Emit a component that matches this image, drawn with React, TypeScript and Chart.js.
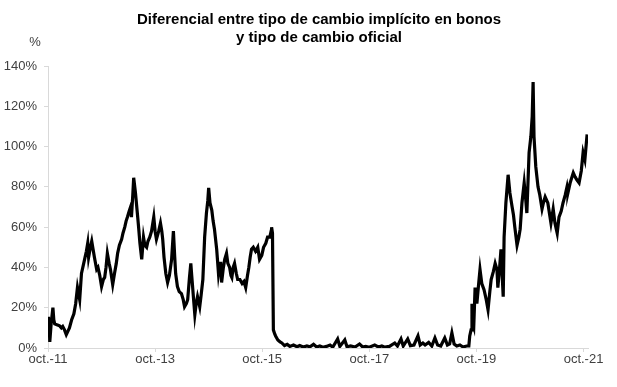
import React, { useEffect, useRef } from "react";
import { Chart, registerables } from "chart.js";

Chart.register(...registerables);

// Months elapsed since October 2011
const months = [
  0.1, 0.3, 0.4, 0.7, 1.1, 1.3, 1.5, 2.0, 2.6, 3.0, 3.3, 3.7, 4.1, 4.5, 4.8, 5.3, 5.8, 6.2, 6.6, 7.1,
  7.5, 8.2, 8.6, 8.9, 9.1, 9.5, 9.8, 10.1, 10.4, 10.9, 11.2, 11.6, 12.0, 12.4, 12.7, 13.0, 13.3, 13.7, 14.0, 14.5,
  14.9, 15.3, 15.6, 16.0, 16.5, 16.8, 17.2, 17.5, 17.8, 18.2, 18.5, 18.7, 19.0, 19.2, 19.6, 20.1, 20.3, 20.6, 21.0, 21.4,
  21.7, 22.1, 22.4, 22.8, 23.2, 23.7, 24.0, 24.3, 24.8, 25.2, 25.5, 25.7, 26.0, 26.4, 26.8, 27.2, 27.7, 28.1, 28.4, 28.6,
  29.0, 29.4, 29.9, 30.3, 30.6, 31.0, 31.3, 31.7, 32.0, 32.2, 32.4, 32.7, 32.9, 33.2, 33.5, 34.0, 34.3, 34.7, 35.1, 35.5,
  35.8, 36.0, 36.3, 36.7, 37.0, 37.3, 37.8, 38.0, 38.2, 38.5, 38.7, 38.9, 39.3, 39.6, 40.0, 40.3, 40.7, 41.0, 41.2, 41.5,
  41.8, 42.2, 42.5, 43.0, 43.5, 43.9, 44.3, 44.7, 45.0, 45.3, 45.6, 46.0, 46.5, 47.0, 47.4, 47.9, 48.3, 48.8, 49.2, 49.7,
  50.0, 50.1, 50.3, 50.5, 50.8, 51.0, 51.5, 52.0, 52.4, 53.0, 53.6, 54.2, 55.0, 55.8, 56.4, 57.2, 58.0, 58.7, 59.5, 60.2,
  60.9, 61.6, 62.4, 63.2, 63.8, 64.9, 65.4, 66.5, 67.0, 67.8, 68.8, 69.8, 70.5, 71.2, 72.0, 73.2, 74.0, 74.8, 75.5, 76.5,
  77.7, 78.3, 79.1, 79.6, 80.6, 81.2, 82.0, 82.9, 83.4, 84.0, 84.5, 85.3, 86.0, 86.7, 87.3, 88.0, 88.9, 89.5, 90.0, 90.5,
  91.0, 91.6, 92.3, 93.0, 93.8, 94.3, 94.5, 94.8, 95.0, 95.2, 95.4, 95.7, 96.1, 96.5, 96.8, 97.2, 97.7, 98.2, 98.6, 99.0,
  99.3, 99.8, 100.2, 100.6, 100.8, 101.2, 101.5, 102.0, 102.2, 102.6, 103.1, 103.5, 104.0, 104.3, 104.6, 105.1, 105.5, 105.8, 106.2, 106.7,
  107.0, 107.3, 107.6, 107.8, 108.2, 108.5, 108.7, 108.9, 109.3, 109.8, 110.2, 110.7, 111.0, 111.4, 112.0, 112.7, 113.2, 113.6, 114.1, 114.5,
  115.0, 115.4, 115.9, 116.3, 116.5, 117.0, 117.7, 118.1, 118.5, 119.0, 119.5, 119.9, 120.3, 120.8,
];

// Differential, %
const values = [
  15.5, 10, 3, 12, 20, 14, 12, 11.5, 11, 10, 10.7, 9, 6.6, 8.5, 10, 14, 17, 22, 30, 24,
  37, 44, 48, 52, 45, 50, 53, 49, 45, 39, 40, 36, 30.5, 34, 35, 40, 47, 42, 39, 31.5,
  37, 42, 47, 51, 54, 57, 60, 63, 65, 68, 70, 65, 76, 84.5, 77, 65, 60, 52, 44, 55,
  51, 50, 53, 55, 58, 65, 58, 54, 58, 62, 58, 54, 45, 37, 32.5, 36, 44, 58, 45, 37,
  30.5, 28, 27, 24, 20.5, 22, 24, 35, 42, 36, 30.5, 22, 16.5, 22, 25.5, 20.5, 26, 34, 55, 67,
  73, 79.5, 72, 68.5, 63, 59, 49, 43, 37, 42, 42, 32.5, 40, 44, 47, 42, 40, 36, 35, 40,
  42, 37, 34, 34, 32, 33, 30, 36, 40, 45, 49, 50, 48, 50, 44, 46, 50, 52, 55, 55,
  58, 60, 57, 9, 7, 6, 4, 3, 2.5, 1.2, 1.8, 0.8, 1.5, 0.6, 1.2, 0.5, 1.0, 0.6, 1.8, 0.5,
  1.0, 0.4, 0.8, 1.5, 0.4, 4.5, 0.8, 4.0, 0.6, 1.0, 0.5, 2.0, 0.5, 0.8, 0.4, 1.5, 0.5, 1.0, 0.4, 0.8,
  2.5, 1.0, 4.5, 1.0, 4.5, 1.2, 1.5, 6.0, 1.5, 2.5, 1.5, 2.8, 1.0, 5.0, 1.5, 1.0, 5.0, 1.5, 2.0, 7.5,
  2.0, 1.0, 1.5, 0.5, 1.0, 1.0, 6, 9, 22, 12, 10.5, 30, 22, 32, 39, 32, 29, 24, 19, 28,
  34, 38, 42, 39, 30, 40, 49, 25.5, 55, 72, 86, 77, 70, 66, 60, 51, 55, 59, 72, 82,
  75, 67, 85, 97, 105, 115, 132, 105, 90, 80, 76, 69, 72, 75, 72, 62, 69, 62, 57, 65,
  68, 72, 76, 80, 77, 82, 87, 85, 83.5, 82, 88, 97, 93.5, 106,
];

const xTickMonths = [0, 24, 48, 72, 96, 120];
const xTickLabels = ["oct.-11", "oct.-13", "oct.-15", "oct.-17", "oct.-19", "oct.-21"];
const yTickValues = [0, 20, 40, 60, 80, 100, 120, 140];
const titleLines = ["Diferencial entre tipo de cambio implícito en bonos", "y tipo de cambio oficial"];
const unitLabel = "%";

const FONT = '"Liberation Sans", Arial, sans-serif';

const textPlugin = {
  id: "textPlugin",
  afterDraw(chart: any) {
    const ctx = chart.ctx;
    ctx.save();
    ctx.fillStyle = "#000";
    ctx.font = `bold 15px ${FONT}`;
    ctx.textAlign = "center";
    ctx.textBaseline = "middle";
    ctx.fillText(titleLines[0], 319, 20);
    ctx.fillText(titleLines[1], 319, 38);
    ctx.font = `13px ${FONT}`;
    ctx.fillStyle = "#404040";
    ctx.fillText(unitLabel, 35, 42);
    ctx.restore();
  },
};

export default function App() {
  const ref = useRef<HTMLCanvasElement>(null);

  useEffect(() => {
    if (!ref.current) return;
    const chart = new Chart(ref.current, {
      type: "line",
      data: {
        datasets: [
          {
            data: months.map((m, i) => ({ x: m, y: values[i] })),
            borderColor: "#000",
            borderWidth: 3.2,
            pointRadius: 0,
            tension: 0,
            fill: false,
          },
        ],
      },
      options: {
        animation: false,
        responsive: false,
        layout: { padding: { left: 0, right: 29, top: 66, bottom: 0 } },
        plugins: {
          legend: { display: false },
          title: { display: false },
          tooltip: { enabled: false },
        },
        scales: {
          x: {
            type: "linear",
            min: 0,
            max: 121,
            afterBuildTicks: (s: any) => {
              s.ticks = xTickMonths.map((v) => ({ value: v }));
            },
            afterFit: (s: any) => {
              s.height = 39;
            },
            ticks: {
              callback: (v: any) => xTickLabels[xTickMonths.indexOf(Number(v))] ?? "",
              color: "#404040",
              font: { family: FONT, size: 13 },
              maxRotation: 0,
              autoSkip: false,
              padding: 0,
            },
            grid: { drawOnChartArea: false, drawTicks: true, tickLength: 4, color: "#d9d9d9" },
            border: { color: "#d9d9d9", width: 1 },
          },
          y: {
            min: 0,
            max: 140,
            afterBuildTicks: (s: any) => {
              s.ticks = yTickValues.map((v) => ({ value: v }));
            },
            afterFit: (s: any) => {
              s.width = 48;
            },
            ticks: {
              callback: (v: any) => `${v}%`,
              color: "#404040",
              font: { family: FONT, size: 13 },
              padding: 7,
            },
            grid: { drawOnChartArea: false, drawTicks: true, tickLength: 4, color: "#d9d9d9" },
            border: { color: "#d9d9d9", width: 1 },
          },
        },
      },
      plugins: [textPlugin],
    });
    return () => chart.destroy();
  }, []);

  return (
    <div style={{ position: "fixed", left: 0, top: 0, width: 617, height: 387, background: "#fff" }}>
      <canvas ref={ref} width={617} height={387} style={{ width: 617, height: 387, display: "block" }} />
    </div>
  );
}
